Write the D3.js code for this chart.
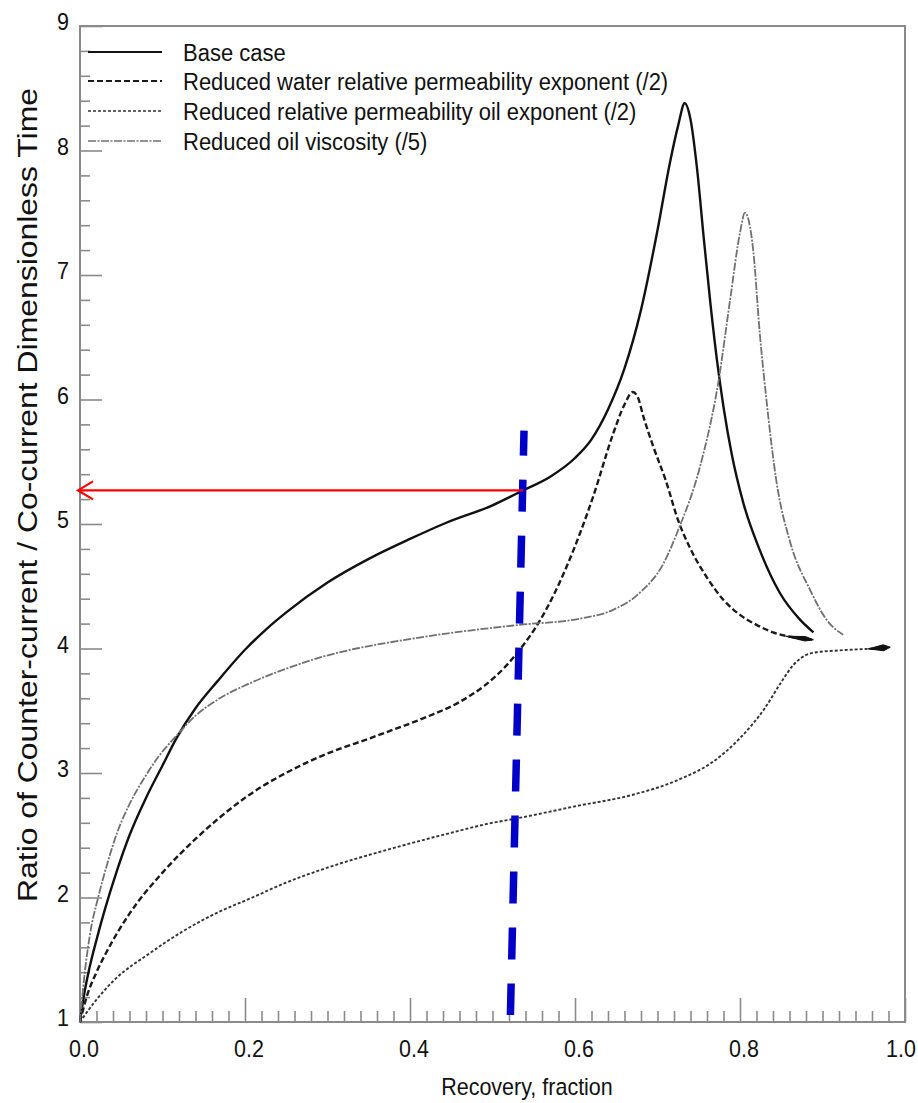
<!DOCTYPE html>
<html>
<head>
<meta charset="utf-8">
<script src="https://cdn.jsdelivr.net/npm/d3@7"></script>
<style>
  html, body { margin: 0; padding: 0; background: #fff; }
  svg { display: block; font-family: "Liberation Sans", Arial, Helvetica, sans-serif; }
</style>
</head>
<body>
<svg id="chart" width="918" height="1103"></svg>
<script>
// ---- data: ratio of counter-current to co-current dimensionless time vs recovery ----
const seriesNames = [
  "Base case",
  "Reduced water relative permeability exponent (/2)",
  "Reduced relative permeability oil exponent (/2)",
  "Reduced oil viscosity (/5)"
];

const baseCase = [
  [0, 1], [0.005, 1.22], [0.012, 1.45], [0.02, 1.66], [0.03, 1.9], [0.045, 2.22],
  [0.06, 2.5], [0.08, 2.8], [0.1, 3.06], [0.117, 3.28], [0.14, 3.52], [0.167, 3.74],
  [0.2, 3.99], [0.225, 4.15], [0.25, 4.29], [0.3, 4.53], [0.35, 4.72], [0.4, 4.88],
  [0.444, 5.01], [0.5, 5.15], [0.537, 5.27], [0.57, 5.38], [0.6, 5.53], [0.62, 5.68],
  [0.64, 5.92], [0.66, 6.25], [0.68, 6.72], [0.7, 7.36], [0.715, 7.9], [0.725, 8.2],
  [0.733, 8.38], [0.74, 8.25], [0.748, 7.85], [0.756, 7.3], [0.764, 6.78], [0.772, 6.32],
  [0.78, 5.94], [0.79, 5.56], [0.804, 5.17], [0.824, 4.79], [0.848, 4.45], [0.873, 4.23],
  [0.889, 4.13]
];

const waterExp = [
  [0, 1], [0.008, 1.2], [0.02, 1.4], [0.032, 1.56], [0.06, 1.87], [0.1, 2.2],
  [0.14, 2.47], [0.2, 2.8], [0.28, 3.1], [0.36, 3.3], [0.42, 3.45], [0.46, 3.57],
  [0.49, 3.7], [0.515, 3.85], [0.533, 3.99], [0.558, 4.23], [0.59, 4.66], [0.622, 5.22],
  [0.646, 5.72], [0.66, 5.96], [0.67, 6.06], [0.676, 6.02], [0.683, 5.86], [0.695, 5.62],
  [0.71, 5.35], [0.725, 5.03], [0.74, 4.8], [0.76, 4.57], [0.78, 4.39], [0.8, 4.27],
  [0.82, 4.19], [0.84, 4.13], [0.865, 4.09], [0.889, 4.07]
];

const oilExp = [
  [0, 1], [0.02, 1.18], [0.042, 1.34], [0.084, 1.55], [0.125, 1.73], [0.167, 1.88],
  [0.209, 2.0], [0.25, 2.12], [0.3, 2.24], [0.376, 2.39], [0.45, 2.52], [0.5, 2.6],
  [0.525, 2.63], [0.606, 2.74], [0.667, 2.82], [0.727, 2.95], [0.765, 3.08], [0.8, 3.28],
  [0.83, 3.52], [0.85, 3.73], [0.865, 3.87], [0.878, 3.94], [0.893, 3.97], [0.921, 3.985],
  [0.962, 4.0], [0.982, 4.01]
];

const oilVisc = [
  [0, 1], [0.005, 1.35], [0.012, 1.7], [0.022, 2.0], [0.033, 2.27], [0.045, 2.52],
  [0.06, 2.75], [0.077, 2.95], [0.095, 3.13], [0.117, 3.3], [0.14, 3.46], [0.167, 3.59],
  [0.209, 3.73], [0.251, 3.84], [0.292, 3.93], [0.335, 4.0], [0.376, 4.05], [0.444, 4.12],
  [0.533, 4.19], [0.606, 4.24], [0.646, 4.31], [0.679, 4.45], [0.707, 4.68], [0.725, 4.95],
  [0.7515, 5.46], [0.774, 6.15], [0.788, 6.8], [0.8, 7.34], [0.806, 7.5], [0.816, 7.2],
  [0.824, 6.53], [0.832, 6.0], [0.844, 5.35], [0.861, 4.85], [0.885, 4.47], [0.905, 4.23],
  [0.925, 4.11]
];

const xMajorTicks = [0, 0.2, 0.4, 0.6, 0.8, 1.0];
const xTickLabels = ["0.0", "0.2", "0.4", "0.6", "0.8", "1.0"];
const yMajorTicks = [1, 2, 3, 4, 5, 6, 7, 8, 9];
const yTickLabels = ["1", "2", "3", "4", "5", "6", "7", "8", "9"];

// annotation: reading at the marked recovery
const markRecovery = [0.5382, 0.5217];   // top and bottom of the vertical marker
const markRange = [5.75, 1.056];
const markRatio = 5.27;
const markRatioRecovery = 0.537;

// ---- layout ----
const svg = d3.select("#chart");
const x = d3.scaleLinear().domain([0, 1]).range([80, 905]);
const y = d3.scaleLinear().domain([1, 9]).range([1022, 26]);
const axisColor = "#8a8a8a";
const textStretch = "scale(1,1.12)";

// plot frame
svg.append("rect")
  .attr("x", x(0)).attr("y", y(9))
  .attr("width", x(1) - x(0)).attr("height", y(1) - y(9))
  .attr("fill", "none").attr("stroke", axisColor).attr("stroke-width", 2);

// x ticks (inward)
const xMinor = d3.range(1, 50).map(i => i * 0.02).filter(v => Math.abs(v * 5 - Math.round(v * 5)) > 1e-6);
const xAxisMinor = d3.axisBottom(x).tickValues(xMinor).tickSize(-11).tickFormat("");
const xAxisMajor = d3.axisBottom(x).tickValues(xMajorTicks).tickSize(-24).tickFormat("");
[xAxisMinor, xAxisMajor].forEach(ax => {
  const g = svg.append("g").attr("transform", `translate(0,${y(1)})`).call(ax);
  g.select(".domain").remove();
  g.selectAll("line").attr("stroke", axisColor).attr("stroke-width", 1.6);
});

// y ticks (inward)
const yMinor = d3.range(1, 40).map(i => 1 + i * 0.2).filter(v => Math.abs(v - Math.round(v)) > 1e-6);
const yAxisMinor = d3.axisLeft(y).tickValues(yMinor).tickSize(-10).tickFormat("");
const yAxisMajor = d3.axisLeft(y).tickValues(yMajorTicks).tickSize(-22).tickFormat("");
[yAxisMinor, yAxisMajor].forEach(ax => {
  const g = svg.append("g").attr("transform", `translate(${x(0)},0)`).call(ax);
  g.select(".domain").remove();
  g.selectAll("line").attr("stroke", axisColor).attr("stroke-width", 1.6);
});

// tick labels (the last one is pulled in so it stays on the page)
svg.append("g").selectAll("text").data(xMajorTicks).join("text")
  .attr("transform", d => `translate(${x(d) + (d === 1 ? -4 : 4)},${1057}) ${textStretch}`)
  .attr("text-anchor", "middle")
  .attr("font-size", 21.5).attr("fill", "#111")
  .text((d, i) => xTickLabels[i]);

svg.append("g").selectAll("text").data(yMajorTicks).join("text")
  .attr("transform", d => `translate(69,${y(d) + 4}) ${textStretch}`)
  .attr("text-anchor", "end")
  .attr("font-size", 21.5).attr("fill", "#111")
  .text((d, i) => yTickLabels[i]);

// axis titles
svg.append("text")
  .attr("transform", `translate(527,1095) ${textStretch}`)
  .attr("text-anchor", "middle").attr("font-size", 21.5).attr("fill", "#111")
  .text("Recovery, fraction");

svg.append("text")
  .attr("transform", `translate(37,495) scale(1,1.14) rotate(-90)`)
  .attr("text-anchor", "middle").attr("font-size", 28).attr("fill", "#111")
  .text("Ratio of Counter-current / Co-current Dimensionless Time");

// curves
const line = d3.line().x(d => x(d[0])).y(d => y(d[1])).curve(d3.curveMonotoneX);
const styles = [
  { data: baseCase, stroke: "#111", width: 2.4, dash: null },
  { data: waterExp, stroke: "#1a1a1a", width: 2.4, dash: "6,3" },
  { data: oilExp, stroke: "#333", width: 1.9, dash: "3,2" },
  { data: oilVisc, stroke: "#707070", width: 1.8, dash: "8,1.5,2,1.5" }
];
const plot = svg.append("g");
styles.forEach(s => {
  plot.append("path").datum(s.data)
    .attr("d", line)
    .attr("fill", "none")
    .attr("stroke", s.stroke)
    .attr("stroke-width", s.width)
    .attr("stroke-dasharray", s.dash)
    .attr("stroke-linejoin", "round");
});

// tapered heads where two of the runs stop
[[waterExp, 28, 4.5], [oilExp, 22, 6]].forEach(([d, len, w]) => {
  const p1 = [x(d[d.length - 2][0]), y(d[d.length - 2][1])];
  const p2 = [x(d[d.length - 1][0]), y(d[d.length - 1][1])];
  const L = Math.hypot(p2[0] - p1[0], p2[1] - p1[1]);
  const ux = (p2[0] - p1[0]) / L, uy = (p2[1] - p1[1]) / L;
  const bx = p2[0] - ux * len, by = p2[1] - uy * len;
  const mx = p2[0] - ux * len * 0.3, my = p2[1] - uy * len * 0.3;
  const nx = -uy, ny = ux;
  plot.append("path")
    .attr("d", `M${bx},${by} L${mx + nx * w / 2},${my + ny * w / 2} L${p2[0]},${p2[1]} L${mx - nx * w / 2},${my - ny * w / 2} Z`)
    .attr("fill", "#111").attr("stroke", "#111").attr("stroke-width", 1);
});

// legend
const legendY = [52, 81, 111, 141];
const legend = svg.append("g");
styles.forEach((s, i) => {
  legend.append("line")
    .attr("x1", 88).attr("x2", 162)
    .attr("y1", legendY[i]).attr("y2", legendY[i])
    .attr("stroke", s.stroke).attr("stroke-width", s.width - 0.3)
    .attr("stroke-dasharray", s.dash);
  legend.append("text")
    .attr("transform", `translate(183,${legendY[i] + 8.5}) ${textStretch}`)
    .attr("font-size", 22).attr("fill", "#111")
    .text(seriesNames[i]);
});

// vertical marker at the chosen recovery
svg.append("line")
  .attr("x1", x(markRecovery[0])).attr("y1", y(markRange[0]))
  .attr("x2", x(markRecovery[1])).attr("y2", y(markRange[1]))
  .attr("stroke", "#0000c8").attr("stroke-width", 7.5)
  .attr("stroke-dasharray", "32,24").attr("stroke-dashoffset", 7);

// horizontal arrow reading the ratio off the y axis
const ay = y(markRatio);
svg.append("line")
  .attr("x1", x(markRatioRecovery)).attr("y1", ay)
  .attr("x2", x(0) - 2).attr("y2", ay)
  .attr("stroke", "#ff0000").attr("stroke-width", 2.2);
svg.append("path")
  .attr("d", `M${x(0) + 13},${ay - 9} L${x(0) - 2},${ay} L${x(0) + 13},${ay + 9}`)
  .attr("fill", "none").attr("stroke", "#ff0000").attr("stroke-width", 2.2);
</script>
</body>
</html>
